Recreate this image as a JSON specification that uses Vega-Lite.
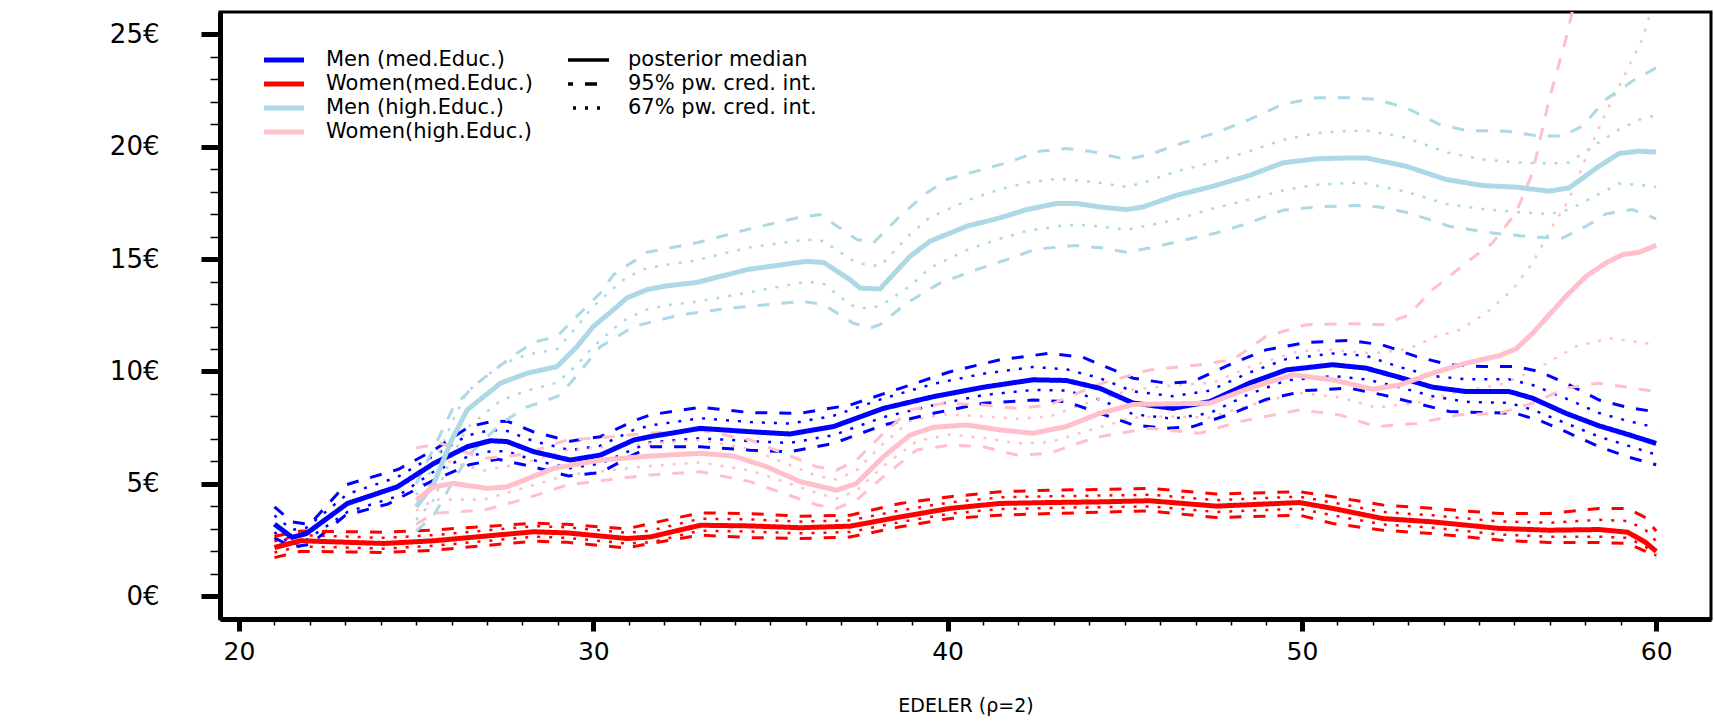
{
  "$schema": "https://vega.github.io/schema/vega-lite/v6.json",
  "width": 1491,
  "height": 607,
  "autosize": {"type": "none"},
  "padding": {"left": 220, "top": 12, "right": 3, "bottom": 102},
  "background": "white",
  "config": {
    "view": {"stroke": "black", "strokeWidth": 3},
    "font": "DejaVu Sans",
    "axis": {"grid": false, "domainColor": "black", "tickColor": "black", "labelColor": "black", "titleColor": "black", "labelFont": "DejaVu Sans", "titleFont": "DejaVu Sans"},
    "legend": {"orient": "none", "padding": 0, "labelFont": "DejaVu Sans", "labelColor": "black", "labelFontSize": 21, "labelLimit": 0, "clipHeight": 22, "rowPadding": 2}
  },
  "data": {
    "values": [
      {"g": "Men (med.Educ.)", "s": "m", "x": [21,21.5,21.9,23.06,24.47,25.5,26.44,27.1,27.57,28.32,29.35,30.2,31.14,31.61,33.02,34.43,35.55,36.78,38.19,39.6,41.01,42.41,43.35,44.3,45.23,46.36,47.4,48.52,49.56,50.87,51.81,52.75,53.69,54.63,55.85,56.51,57.45,58.39,59.2,60], "y": [3.21,2.62,2.79,4.13,4.87,5.91,6.65,6.92,6.88,6.43,6.06,6.28,6.95,7.1,7.47,7.32,7.22,7.55,8.36,8.88,9.3,9.63,9.6,9.25,8.6,8.36,8.66,9.48,10.07,10.3,10.15,9.74,9.3,9.11,9.11,8.81,8.14,7.58,7.2,6.8]},
      {"g": "Men (med.Educ.)", "s": "u67", "x": [21,21.5,21.9,23.06,24.47,25.5,26.44,27.1,27.57,28.32,29.35,30.2,31.14,31.61,33.02,34.43,35.55,36.78,38.19,39.6,41.01,42.41,43.35,44.3,45.23,46.36,47.4,48.52,49.56,50.87,51.81,52.75,53.69,54.63,55.85,56.51,57.45,58.39,59.2,60], "y": [3.6,2.95,3.05,4.55,5.3,6.25,7.15,7.4,7.35,6.9,6.5,6.7,7.4,7.6,7.92,7.75,7.68,8.03,8.8,9.45,9.9,10.2,10.1,9.7,9.12,8.9,9.15,9.95,10.55,10.8,10.7,10.2,9.8,9.65,9.65,9.4,8.8,8.15,7.8,7.5]},
      {"g": "Men (med.Educ.)", "s": "l67", "x": [21,21.5,21.9,23.06,24.47,25.5,26.44,27.1,27.57,28.32,29.35,30.2,31.14,31.61,33.02,34.43,35.55,36.78,38.19,39.6,41.01,42.41,43.35,44.3,45.23,46.36,47.4,48.52,49.56,50.87,51.81,52.75,53.69,54.63,55.85,56.51,57.45,58.39,59.2,60], "y": [2.85,2.3,2.5,3.75,4.45,5.55,6.2,6.45,6.45,6.05,5.7,5.9,6.55,6.85,7.03,6.9,6.82,7.17,7.97,8.5,8.95,9.18,9.15,8.75,8.1,7.9,8.15,9.0,9.6,9.8,9.65,9.3,8.9,8.65,8.6,8.3,7.7,7.1,6.7,6.3]},
      {"g": "Men (med.Educ.)", "s": "u95", "x": [21,21.5,22,23,24.5,25.5,26.5,27.2,27.6,28.3,29.35,30.2,31.14,31.61,33.02,34.43,35.84,37.25,38.66,40.07,41.48,42.88,43.82,45.24,46.17,46.92,48.05,48.99,50.12,51.34,52.28,53.22,54.16,55.1,56.04,56.7,57.45,58.39,59.2,60], "y": [3.98,3.31,3.2,4.95,5.65,6.5,7.55,7.8,7.77,7.32,6.9,7.1,7.8,8.07,8.41,8.17,8.14,8.51,9.25,9.99,10.52,10.81,10.63,9.7,9.48,9.55,10.37,10.96,11.29,11.38,11.18,10.67,10.3,10.22,10.22,10.0,9.48,8.73,8.4,8.2]},
      {"g": "Men (med.Educ.)", "s": "l95", "x": [21,21.5,22,23,24.2,25.5,26.5,27.3,28.3,29.3,30.2,31.14,31.61,33.02,34.43,35.55,36.78,38.19,39.6,41.01,42.41,43.35,44.3,45.24,46.17,46.92,48.05,48.99,50.12,51.34,52.28,53.22,54.16,55.1,56.04,56.79,57.45,58.39,59.2,60], "y": [2.6,2.2,2.3,3.6,4.1,5.17,5.85,6.1,5.76,5.35,5.5,6.3,6.65,6.65,6.5,6.43,6.8,7.62,8.14,8.59,8.73,8.66,8.14,7.62,7.47,7.55,8.14,8.76,9.15,9.26,8.96,8.59,8.22,8.17,8.14,7.77,7.32,6.65,6.2,5.85]},
      {"g": "Women(med.Educ.)", "s": "m", "x": [21,21.74,24.09,25.5,26.9,28.32,29.26,30.95,31.61,33.02,34.43,35.84,37.25,38.66,40.07,41.48,42.88,44.3,45.7,47.58,49.93,50.87,52.28,53.69,55.57,56.98,58.39,59.2,59.7,60], "y": [2.17,2.47,2.35,2.47,2.67,2.87,2.82,2.57,2.64,3.16,3.13,3.05,3.12,3.53,3.91,4.13,4.17,4.2,4.25,4.01,4.17,3.91,3.46,3.31,3.02,2.94,2.97,2.85,2.4,2.0]},
      {"g": "Women(med.Educ.)", "s": "u95", "x": [21,21.74,24.09,25.5,26.9,28.32,29.26,30.95,31.61,33.02,34.43,35.84,37.25,38.66,40.07,41.48,42.88,44.3,45.7,47.58,49.93,50.87,52.28,53.69,55.57,56.98,58.39,59.2,59.7,60], "y": [2.67,2.9,2.85,2.95,3.1,3.25,3.2,3.0,3.24,3.71,3.68,3.56,3.61,4.13,4.43,4.65,4.72,4.75,4.8,4.55,4.65,4.43,4.06,3.91,3.68,3.68,3.91,3.9,3.5,2.9]},
      {"g": "Women(med.Educ.)", "s": "l95", "x": [21,21.74,24.09,25.5,26.9,28.32,29.26,30.95,31.61,33.02,34.43,35.84,37.25,38.66,40.07,41.48,42.88,44.3,45.7,47.58,49.93,50.87,52.28,53.69,55.57,56.98,58.39,59.2,59.7,60], "y": [1.72,2.0,1.95,2.05,2.25,2.45,2.4,2.15,2.35,2.72,2.61,2.57,2.64,3.09,3.46,3.61,3.68,3.74,3.8,3.5,3.61,3.24,2.94,2.79,2.5,2.39,2.39,2.35,2.0,1.7]},
      {"g": "Women(med.Educ.)", "s": "u67", "x": [21,21.74,24.09,25.5,26.9,28.32,29.26,30.95,31.61,33.02,34.43,35.84,37.25,38.66,40.07,41.48,42.88,44.3,45.7,47.58,49.93,50.87,52.28,53.69,55.57,56.98,58.39,59.2,59.7,60], "y": [2.45,2.72,2.6,2.72,2.92,3.12,3.07,2.82,2.92,3.45,3.42,3.32,3.38,3.82,4.18,4.4,4.45,4.48,4.52,4.28,4.43,4.17,3.75,3.6,3.33,3.27,3.4,3.35,2.95,2.45]},
      {"g": "Women(med.Educ.)", "s": "l67", "x": [21,21.74,24.09,25.5,26.9,28.32,29.26,30.95,31.61,33.02,34.43,35.84,37.25,38.66,40.07,41.48,42.88,44.3,45.7,47.58,49.93,50.87,52.28,53.69,55.57,56.98,58.39,59.2,59.7,60], "y": [1.95,2.22,2.12,2.25,2.45,2.65,2.6,2.35,2.4,2.92,2.88,2.8,2.86,3.3,3.68,3.88,3.93,3.96,4.0,3.75,3.9,3.6,3.2,3.05,2.75,2.65,2.65,2.6,2.2,1.8]},
      {"g": "Men (high.Educ.)", "s": "m", "x": [25,25.5,26,26.44,27.38,28.13,28.98,29.54,30,30.57,30.95,31.51,32.08,32.92,34.33,36.02,36.5,37.25,37.53,38.09,38.94,39.5,40.54,41.47,42.23,43.07,43.64,44.29,45.05,45.52,46.45,47.49,48.52,49.46,50.4,51.34,51.81,52.94,54.07,55.1,56.04,56.98,57.54,58.39,58.96,59.52,60], "y": [3.98,5.02,6.95,8.29,9.48,9.92,10.22,11.11,12.0,12.75,13.27,13.64,13.81,13.96,14.53,14.9,14.85,14.08,13.71,13.67,15.12,15.79,16.46,16.83,17.2,17.47,17.47,17.32,17.2,17.32,17.83,18.24,18.72,19.28,19.46,19.5,19.5,19.13,18.54,18.27,18.2,18.02,18.17,19.13,19.7,19.8,19.76]},
      {"g": "Men (high.Educ.)", "s": "u67", "x": [25,25.5,26,26.44,27.38,28.13,28.98,29.54,30,30.57,30.95,31.51,32.08,32.92,34.33,36.02,36.5,37.25,37.53,38.09,38.94,39.5,40.54,41.47,42.23,43.07,43.64,44.29,45.05,45.52,46.45,47.49,48.52,49.46,50.4,51.34,51.81,52.94,54.07,55.1,56.04,56.98,57.54,58.39,58.96,59.52,60], "y": [4.5,5.8,7.7,9.1,10.3,10.75,11.0,12.0,12.9,13.7,14.2,14.6,14.75,14.95,15.5,15.87,15.8,15.0,14.8,14.68,16.1,16.85,17.6,18.1,18.4,18.57,18.5,18.39,18.21,18.39,18.9,19.3,19.8,20.3,20.6,20.7,20.72,20.4,19.75,19.43,19.3,19.25,19.3,20.2,20.77,21.2,21.4]},
      {"g": "Men (high.Educ.)", "s": "l67", "x": [25,25.5,26,26.44,27.38,28.13,28.98,29.54,30,30.57,30.95,31.51,32.08,32.92,34.33,36.02,36.5,37.25,37.53,38.09,38.94,39.5,40.54,41.47,42.23,43.07,43.64,44.29,45.05,45.52,46.45,47.49,48.52,49.46,50.4,51.34,51.81,52.94,54.07,55.1,56.04,56.98,57.54,58.39,58.96,59.52,60], "y": [3.4,4.3,6.2,7.5,8.7,9.15,9.5,10.3,11.1,11.9,12.35,12.75,12.95,13.1,13.5,14.0,13.9,12.97,12.8,12.9,13.8,14.6,15.4,15.9,16.25,16.45,16.53,16.45,16.31,16.45,16.75,17.25,17.65,18.05,18.3,18.39,18.36,18.0,17.45,17.23,17.1,17.0,17.2,17.9,18.36,18.3,18.21]},
      {"g": "Men (high.Educ.)", "s": "u95", "x": [25,25.5,26.06,26.72,27.85,28.32,28.98,29.5,30.2,30.57,31.14,31.51,32.92,34.33,35.74,36.4,37.44,37.9,38.65,39.41,39.97,40.82,41.66,42.6,43.35,44.01,45.05,45.7,46.64,47.58,48.52,49.46,50.4,51.34,52.09,52.94,53.88,54.63,55.76,56.7,57.36,57.92,58.58,59.33,60], "y": [5.0,6.6,8.44,9.48,10.82,11.3,11.56,12.4,13.49,14.3,14.9,15.3,15.72,16.31,16.83,16.98,15.87,15.72,16.9,17.94,18.54,18.91,19.28,19.8,19.92,19.8,19.43,19.65,20.17,20.62,21.21,21.88,22.18,22.18,22.1,21.73,20.99,20.72,20.69,20.47,20.47,20.92,22.1,22.92,23.51]},
      {"g": "Men (high.Educ.)", "s": "l95", "x": [25,25.5,26,26.5,27.4,28.1,29,29.35,30.2,31.14,32.45,33.86,35.93,36.5,37.34,37.81,38.09,38.84,39.78,40.82,41.66,42.51,43.64,44.39,45.05,45.7,46.64,47.58,48.52,49.46,50.4,51.53,52.19,53.03,54.16,55.38,56.51,57.36,58.02,58.58,59.33,60], "y": [2.9,3.6,5.0,6.3,7.7,8.4,8.9,9.48,11.1,12.0,12.52,12.82,13.12,12.97,12.15,11.93,12.08,13.04,13.93,14.53,14.97,15.45,15.6,15.49,15.3,15.49,15.83,16.16,16.61,17.17,17.32,17.38,17.32,17.05,16.46,16.16,15.98,15.94,16.46,17.01,17.2,16.79]},
      {"g": "Women(high.Educ.)", "s": "m", "x": [25,25.5,26.06,27,27.57,28.88,30.2,31.61,33.02,33.96,34.9,35.84,36.87,37.43,38.19,38.94,39.6,40.54,41.48,42.41,43.35,44.3,45.24,46.17,47.4,48.52,49.74,50.87,52.0,52.75,53.69,54.63,55.57,56.04,56.51,57.45,58.02,58.58,59.05,59.52,60], "y": [4.28,4.87,5.02,4.8,4.87,5.69,6.06,6.24,6.36,6.24,5.76,5.1,4.72,5.02,6.21,7.17,7.52,7.62,7.4,7.25,7.55,8.14,8.53,8.56,8.59,9.26,9.85,9.63,9.21,9.4,9.92,10.37,10.7,11.0,11.7,13.34,14.23,14.83,15.2,15.3,15.61]},
      {"g": "Women(high.Educ.)", "s": "u95", "x": [25,25.69,26.9,28,29.26,30.5,31.61,33.02,34.43,35.37,36.31,36.87,37.43,38.19,38.94,39.88,41.01,41.95,42.88,44.3,45.7,47.11,48.05,48.99,50.12,51.34,52.28,53.0,53.69,54.63,55.38,56.04,56.51,56.98,57.45,58.0], "y": [6.6,6.8,6.13,6.3,6.95,7.1,7.25,7.4,6.95,6.36,5.76,5.61,6.06,7.25,8.29,8.59,8.51,8.36,8.51,9.45,10.07,10.3,10.52,11.56,12.08,12.12,12.08,12.5,13.64,14.83,15.72,17.05,18.84,22.1,24.78,28.5]},
      {"g": "Women(high.Educ.)", "s": "l95", "x": [25,25.5,26.9,28,29.26,30.5,31.61,33.02,34.43,35.37,36.31,36.87,37.43,38.19,39.13,40.07,41.01,41.95,42.88,43.82,44.29,45.7,47.11,48.24,49.93,51.06,52.09,53.22,54.44,55.57,56.51,57.45,58.39,59.2,60], "y": [3.2,3.7,3.83,4.3,4.95,5.2,5.4,5.54,5.1,4.58,4.06,3.91,4.28,5.32,6.51,6.73,6.65,6.28,6.36,6.88,7.1,7.47,7.25,7.77,8.29,8.07,7.55,7.69,8.07,8.14,8.59,9.26,9.48,9.3,9.1]},
      {"g": "Women(high.Educ.)", "s": "u67", "x": [25,25.69,26.9,28,29.26,31.61,33.02,34.43,35.37,36.31,36.87,37.43,38.19,38.94,39.88,41.01,41.95,42.88,44.3,45.24,46.5,47.5,48.5,49.9,50.87,52.0,53.0,53.69,54.44,55.2,55.95,56.51,57.07,57.54,58.11,58.67,59.14,59.61,60], "y": [5.5,6.1,5.6,5.9,6.5,6.8,6.95,6.55,5.95,5.35,5.2,5.6,6.8,7.8,8.1,8.0,7.9,8.0,8.8,9.2,9.4,9.5,10.2,10.9,10.96,10.8,11.0,11.5,11.85,12.6,13.64,14.83,16.46,17.65,19.87,21.81,23.29,24.78,26.8]},
      {"g": "Women(high.Educ.)", "s": "l67", "x": [25,25.5,26.9,28,29.26,31.61,33.02,34.43,35.37,36.31,36.87,37.43,38.19,39.13,40.07,41.01,41.95,42.88,43.82,45.24,46.17,47.4,48.52,49.93,51.06,52.09,53.22,54.44,55.57,56.51,57.73,58.67,59.71,60], "y": [3.8,4.3,4.3,4.8,5.4,5.8,5.95,5.6,5.1,4.6,4.35,4.7,5.8,6.9,7.2,7.05,6.8,6.85,7.3,7.95,8.0,7.95,8.5,9.05,8.85,8.4,8.6,9.1,9.4,10.0,11.11,11.48,11.26,11.2]}
    ]
  },
  "transform": [{"flatten": ["x", "y"]}],
  "layer": [
    {
      "transform": [{"filter": "datum.s === 'u67' || datum.s === 'l67'"}],
      "mark": {"type": "line", "strokeWidth": 2.5, "clip": true, "strokeCap": "butt"},
      "encoding": {
        "x": {"field": "x", "type": "quantitative", "scale": {"domain": [19.464, 61.547], "nice": false, "zero": false}, "axis": null},
        "y": {"field": "y", "type": "quantitative", "scale": {"domain": [-1.01, 25.99], "nice": false, "zero": false}, "axis": null},
        "color": {"field": "g", "type": "nominal", "scale": {"domain": ["Men (med.Educ.)", "Women(med.Educ.)", "Men (high.Educ.)", "Women(high.Educ.)"], "range": ["#0000ff", "#ff0000", "#add8e6", "#ffc0cb"]}, "legend": {"title": null, "legendX": 44, "legendY": 37, "symbolType": "M-1.5,0H1.5", "symbolSize": 900, "symbolStrokeWidth": 5, "labelOffset": 27, "symbolDash": [1, 0]}},
        "strokeDash": {"datum": "67% pw. cred. int.", "type": "nominal", "scale": {"domain": ["posterior median", "95% pw. cred. int.", "67% pw. cred. int."], "range": [[1, 0], [12, 12], [3, 9]]}, "legend": {"title": null, "legendX": 348, "legendY": 37, "symbolType": "M-1.6,0H1.6", "symbolSize": 900, "symbolStrokeWidth": 3.5, "symbolStrokeColor": "black", "labelOffset": 26}},
        "detail": {"field": "s"}
      }
    },
    {
      "transform": [{"filter": "datum.s === 'u95' || datum.s === 'l95'"}],
      "mark": {"type": "line", "strokeWidth": 3, "clip": true, "strokeCap": "butt"},
      "encoding": {
        "x": {"field": "x", "type": "quantitative", "axis": {"orient": "bottom", "values": [21,22,23,24,25,26,27,28,29,31,32,33,34,35,36,37,38,39,41,42,43,44,45,46,47,48,49,51,52,53,54,55,56,57,58,59], "tickSize": 6, "tickWidth": 1.5, "labels": false, "domain": false, "title": null}},
        "y": {"field": "y", "type": "quantitative", "axis": {"orient": "left", "values": [1,2,3,4,6,7,8,9,11,12,13,14,16,17,18,19,21,22,23,24], "tickSize": 10, "tickWidth": 1.5, "labels": false, "domain": false, "title": null}},
        "color": {"field": "g", "type": "nominal"},
        "strokeDash": {"datum": "95% pw. cred. int.", "type": "nominal"},
        "detail": {"field": "s"}
      }
    },
    {
      "transform": [{"filter": "datum.s === 'm'"}],
      "mark": {"type": "line", "strokeWidth": 5, "clip": true},
      "encoding": {
        "x": {"field": "x", "type": "quantitative", "axis": {"orient": "bottom", "values": [20, 30, 40, 50, 60], "tickSize": 12, "tickWidth": 5, "labelFontSize": 25, "labelPadding": 8, "domainWidth": 5, "title": "EDELER (ρ=2)", "titleFontSize": 19, "titleFontWeight": "normal", "titlePadding": 32, "format": "d"}},
        "y": {"field": "y", "type": "quantitative", "axis": {"orient": "left", "values": [0, 5, 10, 15, 20, 25], "tickSize": 19, "tickWidth": 5, "labelExpr": "datum.value + '€'", "labelFontSize": 26, "labelPadding": 42, "domainWidth": 5, "title": null}},
        "color": {"field": "g", "type": "nominal"},
        "strokeDash": {"datum": "posterior median", "type": "nominal"},
        "detail": {"field": "s"}
      }
    }
  ],
  "resolve": {"axis": {"x": "independent", "y": "independent"}}
}
